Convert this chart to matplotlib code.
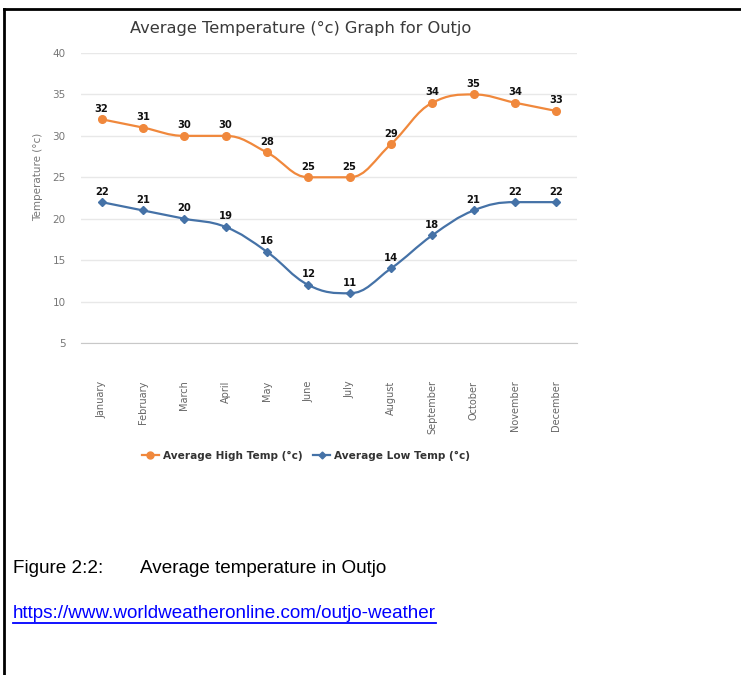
import numpy as np
import matplotlib
matplotlib.use("Agg")
import matplotlib.pyplot as plt
from matplotlib.path import Path
from matplotlib.patches import PathPatch
from matplotlib.lines import Line2D

months = ["January", "February", "March", "April", "May", "June", "July",
          "August", "September", "October", "November", "December"]
high_temp = [32, 31, 30, 30, 28, 25, 25, 29, 34, 35, 34, 33]
low_temp = [22, 21, 20, 19, 16, 12, 11, 14, 18, 21, 22, 22]
y_ticks = [5, 10, 15, 20, 25, 30, 35, 40]

ORANGE = "#F0883C"
BLUE = "#4572A7"


def spline_path(xs, ys, smoothing=1.5):
    # highcharts style spline: one cubic bezier per segment
    n = len(xs)
    lcx, lcy = list(xs), list(ys)
    rcx, rcy = list(xs), list(ys)
    for i in range(1, n - 1):
        x, y = xs[i], ys[i]
        lx, ly = xs[i - 1], ys[i - 1]
        nx, ny = xs[i + 1], ys[i + 1]
        d = smoothing + 1
        a = (smoothing * x + lx) / d
        b = (smoothing * y + ly) / d
        c = (smoothing * x + nx) / d
        e = (smoothing * y + ny) / d
        corr = ((e - b) * (c - x)) / (c - a) + y - e
        b += corr
        e += corr
        if b > ly and b > y:
            b = max(ly, y); e = 2 * y - b
        elif b < ly and b < y:
            b = min(ly, y); e = 2 * y - b
        if e > ny and e > y:
            e = max(ny, y); b = 2 * y - e
        elif e < ny and e < y:
            e = min(ny, y); b = 2 * y - e
        lcx[i], lcy[i], rcx[i], rcy[i] = a, b, c, e
    verts = [(xs[0], ys[0])]
    codes = [Path.MOVETO]
    for i in range(1, n):
        verts += [(rcx[i - 1], rcy[i - 1]), (lcx[i], lcy[i]), (xs[i], ys[i])]
        codes += [Path.CURVE4] * 3
    return Path(verts, codes)


fig = plt.figure(figsize=(7.41, 6.75), dpi=100)
ax = fig.add_axes([81 / 741, 1 - 343 / 675, 496 / 741, 290 / 675])

x = np.arange(len(months))
for vals, col, mk, ms in [(high_temp, ORANGE, "o", 5.5), (low_temp, BLUE, "D", 3.8)]:
    ax.add_patch(PathPatch(spline_path(list(x), vals), fill=False, edgecolor=col, lw=1.6, zorder=3))
    ax.plot(x, vals, linestyle="none", marker=mk, color=col, markersize=ms, zorder=4)
    for xi, v in zip(x, vals):
        ax.annotate(str(v), (xi, v), xytext=(0, 4), textcoords="offset points",
                    ha="center", va="bottom", fontsize=7.2, fontweight="bold", color="#111111")

ax.set_xlim(-0.5, len(months) - 0.5)
ax.set_ylim(5, 40)
ax.set_yticks(y_ticks)
ax.set_xticks(x)
ax.set_xticklabels(months, rotation=90, va="top", ha="center")
ax.tick_params(axis="x", length=0, pad=27, labelsize=7, labelcolor="#666666")
ax.tick_params(axis="y", length=0, pad=11, labelsize=7.5, labelcolor="#777777")
ax.grid(axis="y", color="#E8E8E8", lw=1)
ax.set_axisbelow(True)
for s in ["top", "right", "left"]:
    ax.spines[s].set_visible(False)
ax.spines["bottom"].set_color("#C8C8C8")

fig.text(38 / 741, 1 - 177 / 675, "Temperature (°c)", rotation=90, ha="center", va="center",
         fontsize=7.5, color="#777777")
fig.text(301 / 741, 1 - 28 / 675, "Average Temperature (°c) Graph for Outjo", ha="center",
         va="center", fontsize=11.7, color="#3A3A3A")

handles = [Line2D([], [], color=ORANGE, marker="o", markersize=5, lw=1.6),
           Line2D([], [], color=BLUE, marker="D", markersize=3.5, lw=1.6)]
leg = fig.legend(handles, ["Average High Temp (°c)", "Average Low Temp (°c)"], ncol=2,
                 loc="center", bbox_to_anchor=(306 / 741, 1 - 456 / 675), frameon=False,
                 handlelength=1.6, handletextpad=0.4, columnspacing=1.0,
                 prop={"size": 7.6, "weight": "bold"})
for t in leg.get_texts():
    t.set_color("#333333")

cap_font = ["Liberation Sans", "DejaVu Sans"]
fig.text(13 / 741, 1 - 573 / 675, "Figure 2:2:", ha="left", va="baseline",
         fontsize=13.6, family=cap_font, color="black")
fig.text(140 / 741, 1 - 573 / 675, "Average temperature in Outjo", ha="left", va="baseline",
         fontsize=13.6, family=cap_font, color="black")
url = fig.text(13 / 741, 1 - 618 / 675, "https://www.worldweatheronline.com/outjo-weather",
               ha="left", va="baseline", fontsize=13.6, family=cap_font, color="#0000FF")

# underline for the link
fig.canvas.draw()
bb = url.get_window_extent().transformed(fig.transFigure.inverted())
fig.add_artist(Line2D([bb.x0, bb.x1], [1 - 623 / 675] * 2, color="#0000FF", lw=1.3,
                      transform=fig.transFigure))

# page frame (top and left rule)
fig.add_artist(Line2D([4 / 741, 1], [1 - 9 / 675] * 2, color="black", lw=2, transform=fig.transFigure))
fig.add_artist(Line2D([4 / 741] * 2, [0, 1 - 9 / 675], color="black", lw=2, transform=fig.transFigure))

fig.savefig("out.png", dpi=100)
